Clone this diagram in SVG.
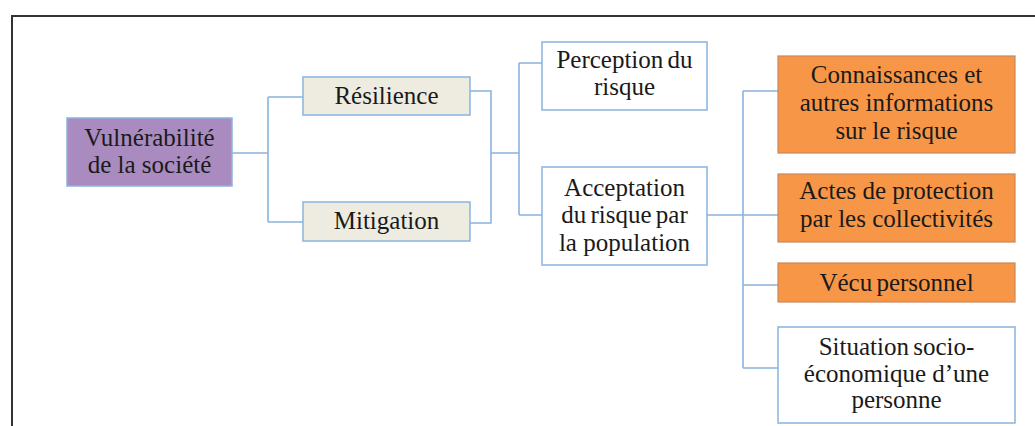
<svg xmlns="http://www.w3.org/2000/svg" width="1035" height="426" viewBox="0 0 1035 426">
  <style>
    text { font-family: "Liberation Serif", "DejaVu Serif", serif; font-size: 25px; fill: #1a1a1a; text-anchor: middle; }
    .tight { word-spacing: -2px; }
    .box { stroke: #8ab4e0; stroke-width: 1.5; }
    .root { fill: #a98bbf; }
    .beige { fill: #eeece1; }
    .plain { fill: #ffffff; }
    .orange { fill: #f79646; stroke: #c9885a; stroke-width: 1.2; }
    .link { fill: none; stroke: #8ab4e0; stroke-width: 1.6; }
    .frame { fill: none; stroke: #333333; stroke-width: 2; }
  </style>

  <rect width="1035" height="426" fill="#ffffff"/>
  <path class="frame" d="M12,426 V16 H1035"/>

  <g id="connectors">
    <path class="link" d="M232,153 H268 M268,97 V222 M268,97 H303 M268,222 H303"/>
    <path class="link" d="M470,91 H491 V223 H470 M491,153 H519 M519,63 V215 M519,63 H542 M519,215 H542"/>
    <path class="link" d="M707,215 H743 M743,91 V368 M743,91 H778 M743,215 H778 M743,285 H778 M743,368 H778"/>
  </g>

  <g id="vulnerabilite">
    <rect class="box root" x="67" y="118" width="165" height="68"/>
    <text x="149.5" y="146">Vulnérabilité</text>
    <text x="149.5" y="173">de la société</text>
  </g>

  <g id="resilience">
    <rect class="box beige" x="303" y="77" width="167" height="38"/>
    <text x="386.5" y="104">Résilience</text>
  </g>

  <g id="mitigation">
    <rect class="box beige" x="303" y="202" width="167" height="39"/>
    <text x="386.5" y="229">Mitigation</text>
  </g>

  <g id="perception">
    <rect class="box plain" x="542" y="42" width="165" height="68"/>
    <text class="tight" x="624.5" y="68">Perception du</text>
    <text x="624.5" y="95">risque</text>
  </g>

  <g id="acceptation">
    <rect class="box plain" x="542" y="167" width="165" height="98"/>
    <text x="624.5" y="196">Acceptation</text>
    <text class="tight" x="624.5" y="223">du risque par</text>
    <text x="624.5" y="251">la population</text>
  </g>

  <g id="connaissances">
    <rect class="orange" x="778" y="56" width="237" height="97"/>
    <text x="896.5" y="83">Connaissances et</text>
    <text x="896.5" y="111">autres informations</text>
    <text x="896.5" y="139">sur le risque</text>
  </g>

  <g id="actes">
    <rect class="orange" x="778" y="174" width="237" height="68"/>
    <text x="896.5" y="199">Actes de protection</text>
    <text x="896.5" y="227">par les collectivités</text>
  </g>

  <g id="vecu">
    <rect class="orange" x="778" y="263" width="237" height="39"/>
    <text class="tight" x="896.5" y="291">Vécu personnel</text>
  </g>

  <g id="situation">
    <rect class="box plain" x="778" y="327" width="237" height="96"/>
    <text class="tight" x="896.5" y="355">Situation socio-</text>
    <text x="896.5" y="382">économique d’une</text>
    <text x="896.5" y="408">personne</text>
  </g>
</svg>
